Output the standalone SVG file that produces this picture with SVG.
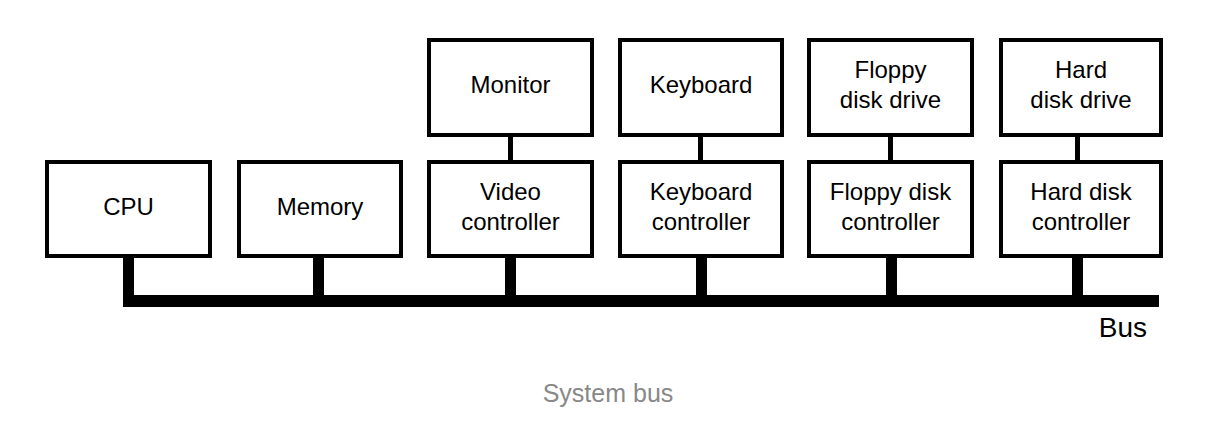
<svg xmlns="http://www.w3.org/2000/svg" width="1217" height="425" viewBox="0 0 1217 425">
<style>
.box{fill:#fff;stroke:#000;stroke-width:4}
.lbl{font-family:"Liberation Sans",Arial,sans-serif;font-size:24px;fill:#000;text-anchor:middle}
.cap{font-family:"Liberation Sans",Arial,sans-serif;font-size:25px;fill:#888;text-anchor:middle}
.bar{fill:#000}
</style>
<rect width="1217" height="425" fill="#fff"/>
<g id="connectors">
<rect class="bar" x="123" y="295" width="1036" height="12"/>
<rect class="bar" x="123" y="256" width="11" height="40"/>
<rect class="bar" x="313" y="256" width="11" height="40"/>
<rect class="bar" x="505" y="256" width="11" height="40"/>
<rect class="bar" x="696" y="256" width="11" height="40"/>
<rect class="bar" x="886" y="256" width="11" height="40"/>
<rect class="bar" x="1072" y="256" width="11" height="40"/>
<rect class="bar" x="508" y="135" width="5" height="27"/>
<rect class="bar" x="698" y="135" width="5" height="27"/>
<rect class="bar" x="888" y="135" width="5" height="27"/>
<rect class="bar" x="1075" y="135" width="5" height="27"/>
</g>
<g id="cpu"><rect class="box" x="47" y="162" width="163" height="94"/><text class="lbl" x="128.5" y="215">CPU</text></g>
<g id="memory"><rect class="box" x="239" y="162" width="162" height="94"/><text class="lbl" x="320" y="215">Memory</text></g>
<g id="monitor"><rect class="box" x="429" y="40" width="163" height="95"/><text class="lbl" x="510.5" y="93">Monitor</text></g>
<g id="video-controller"><rect class="box" x="429" y="162" width="163" height="94"/><text class="lbl" x="510.5" y="200">Video</text><text class="lbl" x="510.5" y="230">controller</text></g>
<g id="keyboard"><rect class="box" x="620" y="40" width="162" height="95"/><text class="lbl" x="701" y="93">Keyboard</text></g>
<g id="keyboard-controller"><rect class="box" x="620" y="162" width="162" height="94"/><text class="lbl" x="701" y="200">Keyboard</text><text class="lbl" x="701" y="230">controller</text></g>
<g id="floppy-drive"><rect class="box" x="809" y="40" width="163" height="95"/><text class="lbl" x="890.5" y="78">Floppy</text><text class="lbl" x="890.5" y="108">disk drive</text></g>
<g id="floppy-controller"><rect class="box" x="809" y="162" width="163" height="94"/><text class="lbl" x="890.5" y="200">Floppy disk</text><text class="lbl" x="890.5" y="230">controller</text></g>
<g id="hard-drive"><rect class="box" x="1001" y="40" width="160" height="95"/><text class="lbl" x="1081" y="78">Hard</text><text class="lbl" x="1081" y="108">disk drive</text></g>
<g id="hard-controller"><rect class="box" x="1001" y="162" width="160" height="94"/><text class="lbl" x="1081" y="200">Hard disk</text><text class="lbl" x="1081" y="230">controller</text></g>
<g id="bus-label"><text class="lbl" x="1147" y="337" style="text-anchor:end;font-size:28px">Bus</text></g>
<text class="cap" x="608" y="402">System bus</text>
</svg>
